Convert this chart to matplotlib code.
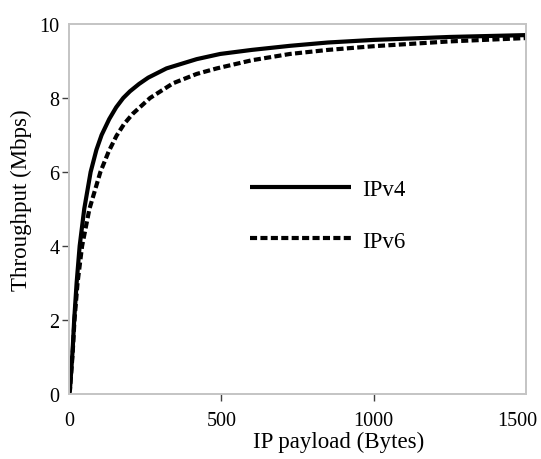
import matplotlib
matplotlib.use("Agg")
import matplotlib.pyplot as plt
import matplotlib.transforms as mtransforms

# Data
ipv4_payload = [0, 3, 12, 17, 25, 35, 50, 71, 90, 107, 132, 155, 178, 200, 230, 260, 320, 419, 496, 600, 725, 850, 1000, 1250, 1500]
ipv4_tput    = [0.0, 0.1, 1.2, 2.0, 3.0, 4.0, 5.0, 6.0, 6.6, 7.0, 7.43, 7.75, 8.0, 8.18, 8.38, 8.55, 8.8, 9.05, 9.19, 9.3, 9.41, 9.5, 9.57, 9.65, 9.70]
ipv6_payload = [0, 3, 12, 18, 28, 43, 67, 103, 130, 156, 181, 210, 266, 342, 419, 485, 600, 725, 850, 1000, 1250, 1500]
ipv6_tput    = [0.0, 0.1, 1.1, 2.0, 3.0, 4.0, 5.0, 6.0, 6.55, 6.98, 7.3, 7.58, 8.0, 8.4, 8.65, 8.8, 9.02, 9.19, 9.3, 9.40, 9.53, 9.62]
x_ticks = [0, 500, 1000, 1500]
y_ticks = [0, 2, 4, 6, 8, 10]

plt.rcParams['font.family'] = ['Liberation Serif', 'DejaVu Serif']
fs_tick = 14.5
fs_lab = 16.5

fig = plt.figure(figsize=(5.41, 4.60), dpi=100)
ax = fig.add_axes([69/541, 65/460, 457/541, 370/460])

l1, = ax.plot(ipv4_payload, ipv4_tput, color='black', lw=3.0, solid_capstyle='butt',
              solid_joinstyle='round', label='IPv4')
l2, = ax.plot(ipv6_payload, ipv6_tput, color='black', lw=3.0, linestyle=(0, (1.7, 0.8)),
              dash_capstyle='butt', label='IPv6')

ax.set_xlim(0, 1500)
ax.set_ylim(0, 10)
ax.set_xticks(x_ticks)
ax.set_yticks(y_ticks)
ax.tick_params(axis='both', direction='out', length=5, width=1.0, color='#404040',
               labelsize=fs_tick, labelcolor='black')
ax.tick_params(axis='y', pad=2)
ax.tick_params(axis='x', pad=7)
for t in (ax.xaxis.get_major_ticks()[0], ax.xaxis.get_major_ticks()[-1],
          ax.yaxis.get_major_ticks()[0], ax.yaxis.get_major_ticks()[-1]):
    t.tick1line.set_visible(False)

for s in ax.spines.values():
    s.set_color('#c4c4c4')
    s.set_linewidth(1.4)

# shift last x tick label left as in reference
lbls = ax.get_xticklabels()
off = mtransforms.ScaledTranslation(-9/100, 0, fig.dpi_scale_trans)
lbls[-1].set_transform(lbls[-1].get_transform() + off)

ax.set_xlabel('IP payload (Bytes)', fontsize=fs_lab)
ax.xaxis.set_label_coords((339-69)/457, (395-442)/370)
ax.xaxis.label.set_va('center')
ax.set_ylabel('Throughput (Mbps)', fontsize=fs_lab)
ax.yaxis.set_label_coords((21-69)/457, (395-200)/370)
ax.yaxis.label.set_va('center')

leg = ax.legend(handles=[l1, l2], loc='center left',
                bbox_to_anchor=((250-69)/457, (395-216)/370),
                frameon=False, fontsize=fs_lab, handlelength=4.4, handletextpad=0.5,
                labelspacing=1.35, borderpad=0, borderaxespad=0)

fig.savefig('out.png', dpi=100)
